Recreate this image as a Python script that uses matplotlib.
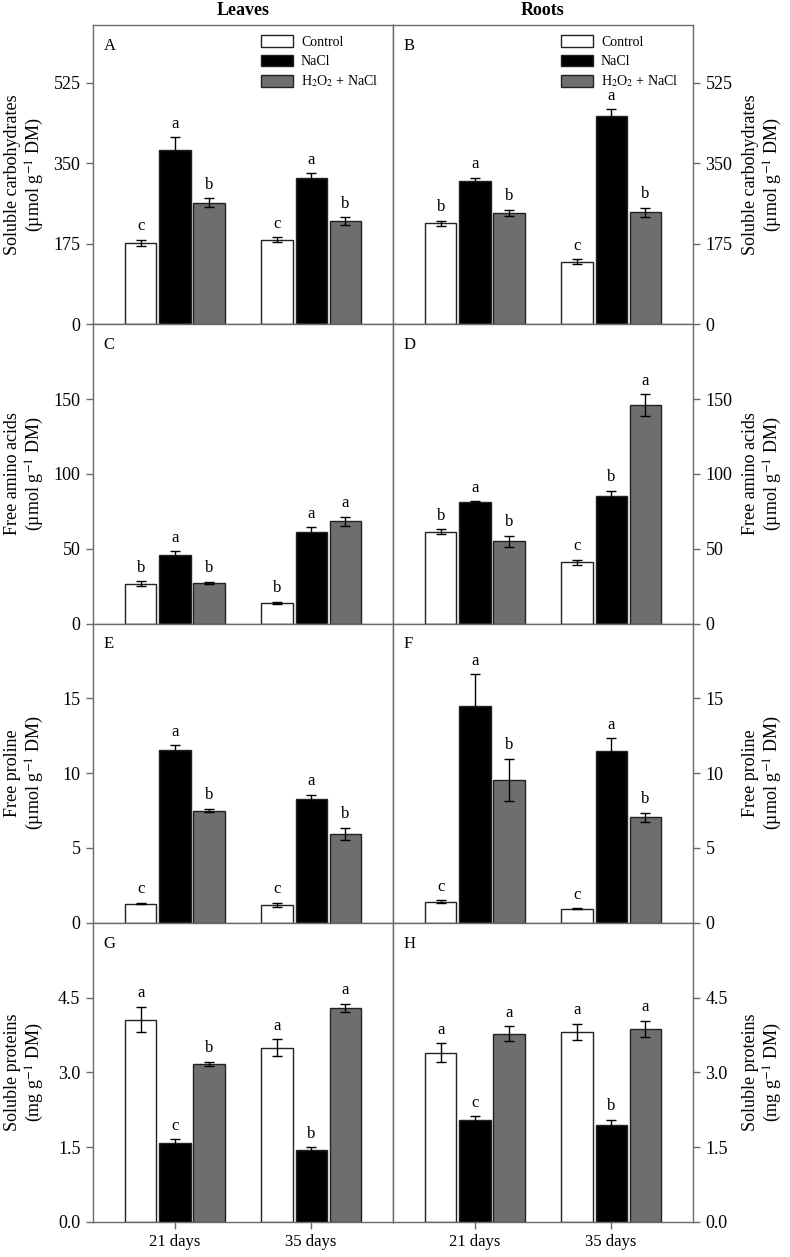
import numpy as np
import matplotlib
matplotlib.use("Agg")
import matplotlib.pyplot as plt

plt.rcParams['font.family'] = ['Liberation Serif', 'DejaVu Serif']
plt.rcParams['mathtext.fontset'] = 'stix'

days = ["21 days", "35 days"]
treatments = ["Control", "NaCl", "H$_2$O$_2$ + NaCl"]
colors = ["white", "black", "#6e6e6e"]

# values per treatment: [21 days, 35 days]
# A - leaves soluble carbohydrates
carb_leaf = [[177, 184], [378, 318], [264, 224]]
carb_leaf_err = [[7, 5], [28, 10], [10, 8]]
carb_leaf_let = [["c", "c"], ["a", "a"], ["b", "b"]]
# B - roots soluble carbohydrates
carb_root = [[219, 136], [312, 452], [242, 243]]
carb_root_err = [[6, 5], [6, 15], [7, 10]]
carb_root_let = [["b", "c"], ["a", "a"], ["b", "b"]]
# C - leaves free amino acids
amino_leaf = [[26.7, 14.0], [46.0, 61.3], [26.9, 68.2]]
amino_leaf_err = [[1.5, 0.7], [2.2, 3.0], [0.8, 3.0]]
amino_leaf_let = [["b", "b"], ["a", "a"], ["b", "a"]]
# D - roots free amino acids
amino_root = [[61.3, 40.9], [81.0, 85.5], [55.0, 146.0]]
amino_root_err = [[1.8, 1.8], [0.7, 3.2], [3.7, 7.3]]
amino_root_let = [["b", "c"], ["a", "b"], ["b", "a"]]
# E - leaves free proline
pro_leaf = [[1.27, 1.2], [11.57, 8.26], [7.5, 5.96]]
pro_leaf_err = [[0.05, 0.13], [0.3, 0.31], [0.13, 0.4]]
pro_leaf_let = [["c", "c"], ["a", "a"], ["b", "b"]]
# F - roots free proline
pro_root = [[1.41, 0.94], [14.47, 11.47], [9.56, 7.05]]
pro_root_err = [[0.1, 0.04], [2.14, 0.87], [1.4, 0.3]]
pro_root_let = [["c", "c"], ["a", "a"], ["b", "b"]]
# G - leaves soluble proteins
prot_leaf = [[4.06, 3.49], [1.58, 1.44], [3.17, 4.30]]
prot_leaf_err = [[0.26, 0.17], [0.08, 0.06], [0.04, 0.08]]
prot_leaf_let = [["a", "a"], ["c", "b"], ["b", "a"]]
# H - roots soluble proteins
prot_root = [[3.39, 3.81], [2.05, 1.94], [3.77, 3.87]]
prot_root_err = [[0.19, 0.16], [0.07, 0.11], [0.15, 0.16]]
prot_root_let = [["a", "a"], ["c", "b"], ["a", "a"]]

ylabels = ["Soluble carbohydrates\n(\u00b5mol g$^{-1}$ DM)",
           "Free amino acids\n(\u00b5mol g$^{-1}$ DM)",
           "Free proline\n(\u00b5mol g$^{-1}$ DM)",
           "Soluble proteins\n(mg g$^{-1}$ DM)"]
ylims = [650, 200, 20, 6]
yticks = [[0, 175, 350, 525], [0, 50, 100, 150], [0, 5, 10, 15], [0.0, 1.5, 3.0, 4.5]]

panels = [
    [(carb_leaf, carb_leaf_err, carb_leaf_let, "A"), (carb_root, carb_root_err, carb_root_let, "B")],
    [(amino_leaf, amino_leaf_err, amino_leaf_let, "C"), (amino_root, amino_root_err, amino_root_let, "D")],
    [(pro_leaf, pro_leaf_err, pro_leaf_let, "E"), (pro_root, pro_root_err, pro_root_let, "F")],
    [(prot_leaf, prot_leaf_err, prot_leaf_let, "G"), (prot_root, prot_root_err, prot_root_let, "H")],
]

spine_col = "#6a6a6a"
fig, axes = plt.subplots(4, 2, figsize=(7.9, 12.57), dpi=100,
                         gridspec_kw=dict(hspace=0, wspace=0))
fig.subplots_adjust(left=93/790, right=693/790, top=1-25/1257, bottom=1-1222/1257)

x = np.array([1.0, 2.0])
width = 0.23
offsets = [-0.25, 0, 0.25]

for r in range(4):
    for c in range(2):
        ax = axes[r, c]
        vals, errs, lets, tag = panels[r][c]
        for i in range(3):
            ax.bar(x + offsets[i], vals[i], width, color=colors[i],
                   edgecolor="#222222", linewidth=1.0, label=treatments[i], zorder=2)
            ax.errorbar(x + offsets[i], vals[i], yerr=errs[i], fmt="none",
                        ecolor="black", elinewidth=1.0, capsize=3.5, capthick=1.0, zorder=3)
            for j in range(2):
                ax.annotate(lets[i][j], (x[j] + offsets[i], vals[i][j] + errs[i][j]),
                            xytext=(0, 4), textcoords="offset points",
                            ha="center", va="bottom", fontsize=12)
        ax.set_xlim(0.4, 2.6)
        ax.set_ylim(0, ylims[r])
        ax.set_yticks(yticks[r])
        if r == 3:
            ax.set_yticklabels(["%.1f" % t for t in yticks[r]])
        ax.tick_params(axis="y", direction="out", length=5, width=1, color=spine_col,
                       labelsize=13, pad=4)
        if r == 3:
            ax.set_xticks(x)
            ax.set_xticklabels(days)
            ax.tick_params(axis="x", direction="out", length=5, width=1, color=spine_col,
                           labelsize=12, pad=4)
        else:
            ax.set_xticks([])
        for s in ax.spines.values():
            s.set_color(spine_col)
            s.set_linewidth(1.0)
        ax.text(0.035, 0.93, tag, transform=ax.transAxes, fontsize=12,
                ha="left", va="center")
        ax.set_ylabel(ylabels[r], fontsize=13, linespacing=1.15)
        if c == 0:
            ax.yaxis.tick_left()
            ax.yaxis.set_label_coords(-0.157, 0.5)
        else:
            ax.yaxis.tick_right()
            ax.yaxis.set_label_position("right")
            ax.yaxis.set_label_coords(1.163, 0.5)
            ax.yaxis.label.set_rotation(90)
            ax.yaxis.label.set_va("top")
        if r == 0:
            ax.legend(loc="upper right", bbox_to_anchor=(0.985, 1.0), frameon=False,
                      fontsize=10, handlelength=2.3, handleheight=0.9,
                      labelspacing=0.4, borderaxespad=0.35, handletextpad=0.6)

axes[0, 0].set_title("Leaves", fontsize=13, fontweight="bold", pad=7)
axes[0, 1].set_title("Roots", fontsize=13, fontweight="bold", pad=7)

plt.savefig("out.png", dpi=100)
